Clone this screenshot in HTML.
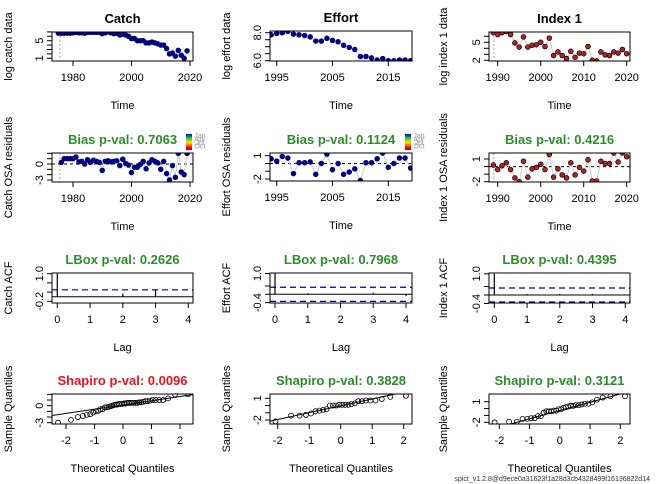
<!DOCTYPE html>
<html><head><meta charset="utf-8"><style>
html,body{margin:0;padding:0;background:#fff;}
svg{display:block;font-family:"Liberation Sans",sans-serif;}
</style></head><body>
<svg id="c" width="656" height="484" viewBox="0 0 656 484">
<defs><linearGradient id="rb" x1="0" y1="0" x2="0" y2="1">
<stop offset="0" stop-color="#0000cc"/><stop offset="0.2" stop-color="#00aa66"/><stop offset="0.4" stop-color="#aadd00"/><stop offset="0.55" stop-color="#ffdd00"/><stop offset="0.7" stop-color="#ff6600"/><stop offset="0.85" stop-color="#ff0000"/><stop offset="1" stop-color="#880088"/></linearGradient></defs>
</svg>
<script>
// ---- data ----
const catchYears = [1975,1976,1977,1978,1979,1980,1981,1982,1983,1984,1985,1986,1987,1988,1989,1990,1991,1992,1993,1994,1995,1996,1997,1998,1999,2000,2001,2002,2003,2004,2005,2006,2007,2008,2009,2010,2011,2012,2013,2014,2015,2016,2017,2018,2019];
const catchLog = [6.7,6.7,6.7,6.7,6.7,6.8,6.9,6.8,6.8,6.7,6.9,6.9,6.9,6.9,6.9,6.6,6.8,7.0,6.8,6.6,6.7,6.3,6.5,6.3,6.0,5.5,5.5,5.0,5.0,5.0,4.5,4.5,4.7,4.5,4.3,4.0,4.0,3.2,2.0,2.2,1.5,2.8,1.7,1.0,2.7];
const catchRes = [0.3,1.0,1.0,1.0,1.0,1.3,0.4,0.5,0.0,0.8,0.3,0.7,0.5,0.3,-1.2,0.5,0.6,0.4,0.5,0.6,-0.3,0.9,0.1,-0.2,-1.6,-0.6,-0.6,-0.1,0.5,-0.9,0.2,0.8,0.5,0.2,-1.0,0.5,-1.8,-3.0,-0.3,-2.5,2.0,-1.5,-2.0,2.0];
const effortYears = [1994,1995,1996,1997,1998,1999,2000,2001,2002,2003,2004,2005,2006,2007,2008,2009,2010,2011,2012,2013,2014,2015,2016,2017,2018,2019];
const effortLog = [7.85,7.95,8.0,8.1,7.9,7.85,7.8,7.7,7.4,7.4,7.6,7.45,7.35,7.1,6.95,6.8,6.3,6.3,6.2,6.05,6.15,6.0,6.0,6.05,6.05,6.0];
const effortRes = [0.6,0.3,0.9,0.7,-1.3,0.1,0.1,0.2,-1.4,0.0,1.2,-0.8,0.0,-1.4,-1.1,-0.7,-2.2,0.1,0.1,0.6,1.35,-0.5,0.0,0.7,0.7,-0.6];
const indexYears = [1989,1990,1991,1992,1993,1994,1995,1996,1997,1998,1999,2000,2001,2002,2003,2004,2005,2006,2007,2008,2009,2010,2011,2012,2013,2014,2015,2016,2017,2018,2019,2020];
const indexLog = [6.6,6.3,6.6,6.8,6.3,4.9,4.2,5.9,4.2,4.5,4.6,5.0,4.3,5.7,2.8,3.4,2.8,2.3,3.5,2.5,3.2,3.1,4.3,2.0,1.9,3.4,2.9,2.8,3.4,3.2,3.8,3.1];
const indexRes = [0.2,-0.4,0.1,0.5,-0.4,-1.5,-2.0,0.7,-1.4,-0.3,-0.1,0.3,-0.4,1.6,-1.4,-0.3,-1.1,-1.5,0.5,-1.1,-0.1,-0.6,0.9,-1.9,-1.9,0.7,0.4,0.4,1.8,0.6,1.8,1.3];
const lags = [0,1,2,3,4];
const catchAcf = [1,0.02,0.14,0.3,0.0];
const effortAcf = [1,0.05,0.0,0.08,-0.08];
const indexAcf = [1,0.05,0.05,0.05,0.03];
const catchCI = 0.3, effortCI = 0.34, indexCI = 0.33;

const S = document.getElementById('c');
const NS = 'http://www.w3.org/2000/svg';
const FS = 11;
function mk(tag, at, parent){const e=document.createElementNS(NS,tag);for(const k in at)e.setAttribute(k,at[k]);(parent||S).appendChild(e);return e;}
function lin(v1,p1,v2,p2){const k=(p2-p1)/(v2-v1);return v=>p1+(v-v1)*k;}
function txt(s,x,y,o,parent){const t=mk('text',Object.assign({x:x,y:y,'text-anchor':'middle','font-size':FS,fill:'#000'},o||{}),parent);t.textContent=s;return t;}

function panel(name,box,sx,sy,xt,yt,ylabTicks,xlab,ylab,title,tcol,ylabX,dec){
  const g=mk('g',{});
  
  
  const [x0,x1,y0,y1]=box;
  const cp=mk('clipPath',{id:'cp-'+name},g);mk('rect',{x:x0,y:y0,width:x1-x0,height:y1-y0},cp);
  const inner=mk('g',{'clip-path':'url(#cp-'+name+')'},g);
  const ax=mk('g',{},g);
  
  
  xt.forEach(v=>{const x=sx(v);mk('line',{x1:x,x2:x,y1:y1,y2:y1+5,stroke:'#000'},ax);txt(String(v),x,y1+20,{},ax);});
  yt.forEach(v=>{const y=sy(v);mk('line',{x1:x0,x2:x0-5,y1:y,y2:y,stroke:'#000'},ax);
    if(ylabTicks.indexOf(v)>=0){const s=dec?v.toFixed(dec):String(v);txt(s,x0-12,y,{transform:'rotate(-90 '+(x0-12)+' '+y+')','dominant-baseline':'middle'},ax);}});
  const xl=txt(xlab,(x0+x1)/2,y1+48,{},g);
  
  
  const lx=ylabX, ly=(y0+y1)/2;
  const yl=txt(ylab,lx,ly,{transform:'rotate(-90 '+lx+' '+ly+')'},g);
  
  
  const tt=txt(title,(x0+x1)/2,y0-9,{'font-size':13,'font-weight':'bold',fill:tcol},g);
  
  
  return {g,inner,box,finish:()=>mk('rect',{x:x0,y:y0,width:x1-x0,height:y1-y0,fill:'none',stroke:'#000'},g)};
}
function series(p,name,xs,ys,sx,sy,fill,strokeC,vline){
  if(vline!==undefined)mk('line',{x1:sx(vline),x2:sx(vline),y1:p.box[2],y2:p.box[3],stroke:'#aaa','stroke-dasharray':'2,2'},p.inner);
  const pl=mk('polyline',{points:xs.map((x,i)=>sx(x)+','+sy(ys[i])).join(' '),fill:'none',stroke:'#ccc'},p.inner);
  
  
  xs.forEach((x,i)=>{const c=mk('circle',{cx:sx(x),cy:sy(ys[i]),r:2.4,fill:fill,stroke:strokeC,'stroke-width':0.7},p.inner);
    
    });
}
function zeroLine(p,sy){mk('line',{x1:p.box[0],x2:p.box[1],y1:sy(0),y2:sy(0),stroke:'#000','stroke-dasharray':'3,3'},p.inner);}
function cbar(x,name){
  const g=mk('g',{});
  
  
  mk('rect',{x:x,y:134,width:6,height:16,fill:'url(#rb)'},g);
  ['Jan','Apr','Jul','Oct'].forEach((m,i)=>txt(m,x+14,138+i*3.5,{'font-size':7,fill:'#999'},g));
}
function acf(p,name,vals,sx,sy,ci){
  mk('line',{x1:p.box[0],x2:p.box[1],y1:sy(0),y2:sy(0),stroke:'#000'},p.inner);
  [ci,-ci].forEach(c=>mk('line',{x1:p.box[0],x2:p.box[1],y1:sy(c),y2:sy(c),stroke:'#00008B','stroke-dasharray':'6,4','stroke-width':1.2},p.inner));
  lags.forEach((l,i)=>{const b=mk('line',{x1:sx(l),x2:sx(l),y1:sy(0),y2:sy(vals[i]),stroke:'#000','stroke-width':1.2},p.inner);
    
    });
}
function qnorm(p){
  const a=[-39.6968302866538,220.946098424521,-275.928510446969,138.357751867269,-30.6647980661472,2.50662827745924],
  b=[-54.4760987982241,161.585836858041,-155.698979859887,66.8013118877197,-13.2806815528857],
  c=[-0.00778489400243029,-0.322396458041136,-2.40075827716184,-2.54973253934373,4.37466414146497,2.93816398269878],
  d=[0.00778469570904146,0.32246712907004,2.445134137143,3.75440866190742];
  if(p<0.02425){const q=Math.sqrt(-2*Math.log(p));return (((((c[0]*q+c[1])*q+c[2])*q+c[3])*q+c[4])*q+c[5])/((((d[0]*q+d[1])*q+d[2])*q+d[3])*q+1);}
  if(p>1-0.02425){return -qnorm(1-p);}
  const q=p-0.5,r=q*q;return (((((a[0]*r+a[1])*r+a[2])*r+a[3])*r+a[4])*r+a[5])*q/(((((b[0]*r+b[1])*r+b[2])*r+b[3])*r+b[4])*r+1);
}
function quant(s,p){const h=(s.length-1)*p,l=Math.floor(h);return s[l]+(h-l)*(s[Math.min(l+1,s.length-1)]-s[l]);}
function qq(p,name,res,sx,sy){
  const s=res.slice().sort((a,b)=>a-b),n=s.length,a=n<=10?3/8:0.5;
  const th=s.map((v,i)=>qnorm((i+1-a)/(n+1-2*a)));
  const q1=quant(s,0.25),q3=quant(s,0.75),t1=qnorm(0.25),t3=qnorm(0.75);
  const sl=(q3-q1)/(t3-t1),ic=q1-sl*t1;
  const ln=mk('line',{x1:sx(-4),x2:sx(4),y1:sy(ic-4*sl),y2:sy(ic+4*sl),stroke:'#000'},p.inner);
  
  
  s.forEach((v,i)=>{const c=mk('circle',{cx:sx(th[i]),cy:sy(v),r:2.5,fill:'none',stroke:'#000','stroke-width':0.8},p.inner);
    
    });
}
const G='#2E8B2E';
let sx,sy,p;
sx=lin(1980,73,2020,190);sy=lin(1,58.3,5,40.7);
p=panel('catch-data',[52,193,32,61],sx,sy,[1980,2000,2020],[1,2,3,4,5,6,7],[1,5],'Time','log catch data','Catch','#000',12);
series(p,'catch-data',catchYears,catchLog,sx,sy,'#00008B','#000066',1975.5);p.finish();
sx=lin(1995,276.7,2015,388.3);sy=lin(6,60.7,8,32.7);
p=panel('effort-data',[270,412,31,61],sx,sy,[1995,2005,2015],[6,6.5,7,7.5,8],[6,8],'Time','log effort data','Effort','#000',230,1);
series(p,'effort-data',effortYears,effortLog,sx,sy,'#00008B','#000066',1993.7);p.finish();
sx=lin(1990,497.7,2020,626.7);sy=lin(2,60.3,5,42.3);
p=panel('index-data',[489,630,32,61],sx,sy,[1990,2000,2010,2020],[2,3,4,5,6],[2,5],'Time','log index 1 data','Index 1','#000',447);
series(p,'index-data',indexYears,indexLog,sx,sy,'#B22222','#000',1989.1);p.finish();
sx=lin(1980,73,2020,190);sy=lin(0,164,-3,180);
p=panel('catch-osa',[52,193,153,182],sx,sy,[1980,2000,2020],[-3,-2,-1,0,1,2],[-3,0],'Time','Catch OSA residuals','Bias p-val: 0.7063',G,12);
zeroLine(p,sy);series(p,'catch-osa',catchYears.slice(1),catchRes,sx,sy,'#00008B','#000066',1975.5);p.finish();cbar(186,'catch');
sx=lin(1995,276.7,2015,388.3);sy=lin(1,155.7,-2,179);
p=panel('effort-osa',[270,412,153,181],sx,sy,[1995,2005,2015],[-2,-1,0,1],[-2,1],'Time','Effort OSA residuals','Bias p-val: 0.1124',G,230);
zeroLine(p,sy);series(p,'effort-osa',effortYears,effortRes,sx,sy,'#00008B','#000066',1993.7);p.finish();cbar(405,'effort');
sx=lin(1990,497.7,2020,626.7);sy=lin(1,159,-2,181.7);
p=panel('index-osa',[489,630,153,182],sx,sy,[1990,2000,2010,2020],[-2,-1,0,1],[-2,1],'Time','Index 1 OSA residuals','Bias p-val: 0.4216',G,447);
zeroLine(p,sy);series(p,'index-osa',indexYears,indexRes,sx,sy,'#B22222','#000',1989.1);p.finish();
sx=lin(0,57.3,4,188.3);sy=lin(0,296.7,1,273.7);
p=panel('catch-acf',[52,193,273,303],sx,sy,lags,[-0.2,0.2,0.6,1],[-0.2,1],'Lag','Catch ACF','LBox p-val: 0.2626',G,12,1);
acf(p,'catch',catchAcf,sx,sy,catchCI);p.finish();
sx=lin(0,275,4,406);sy=lin(0,294.3,1,273.5);
p=panel('effort-acf',[270,412,273,303],sx,sy,lags,[-0.4,0,0.4,1],[-0.4,1],'Lag','Effort ACF','LBox p-val: 0.7968',G,230,1);
acf(p,'effort',effortAcf,sx,sy,effortCI);p.finish();
sx=lin(0,494.3,4,625.3);sy=lin(0,295,1,273.8);
p=panel('index-acf',[489,630,273,303],sx,sy,lags,[-0.4,0,0.4,1],[-0.4,1],'Lag','Index 1 ACF','LBox p-val: 0.4395',G,447,1);
acf(p,'index',indexAcf,sx,sy,indexCI);p.finish();
sx=lin(-2,66,2,180);sy=lin(0,405.7,-3,422.7);
p=panel('catch-qq',[52,193,394,424],sx,sy,[-2,-1,0,1,2],[-3,-2,-1,0,1,2],[-3,0],'Theoretical Quantiles','Sample Quantiles','Shapiro p-val: 0.0096','#E8141E',12);
qq(p,'catch',catchRes,sx,sy);p.finish();
sx=lin(-2,277.7,2,403.7);sy=lin(1,398.3,-2,420);
p=panel('effort-qq',[270,412,394,424],sx,sy,[-2,-1,0,1,2],[-2,-1,0,1],[-2,1],'Theoretical Quantiles','Sample Quantiles','Shapiro p-val: 0.3828',G,230);
qq(p,'effort',effortRes,sx,sy);p.finish();
sx=lin(-2,499.3,2,620.3);sy=lin(1,401.7,-2,422.3);
p=panel('index-qq',[489,630,394,424],sx,sy,[-2,-1,0,1,2],[-2,-1,0,1],[-2,1],'Theoretical Quantiles','Sample Quantiles','Shapiro p-val: 0.3121',G,447);
qq(p,'index',indexRes,sx,sy);p.finish();
const ft=txt('spict_v1.2.8@d9ece0a31623f1a28d3cb4328499f16136822d14',650,481,{'text-anchor':'end','font-size':7,fill:'#333'});


</script>
</body></html>
